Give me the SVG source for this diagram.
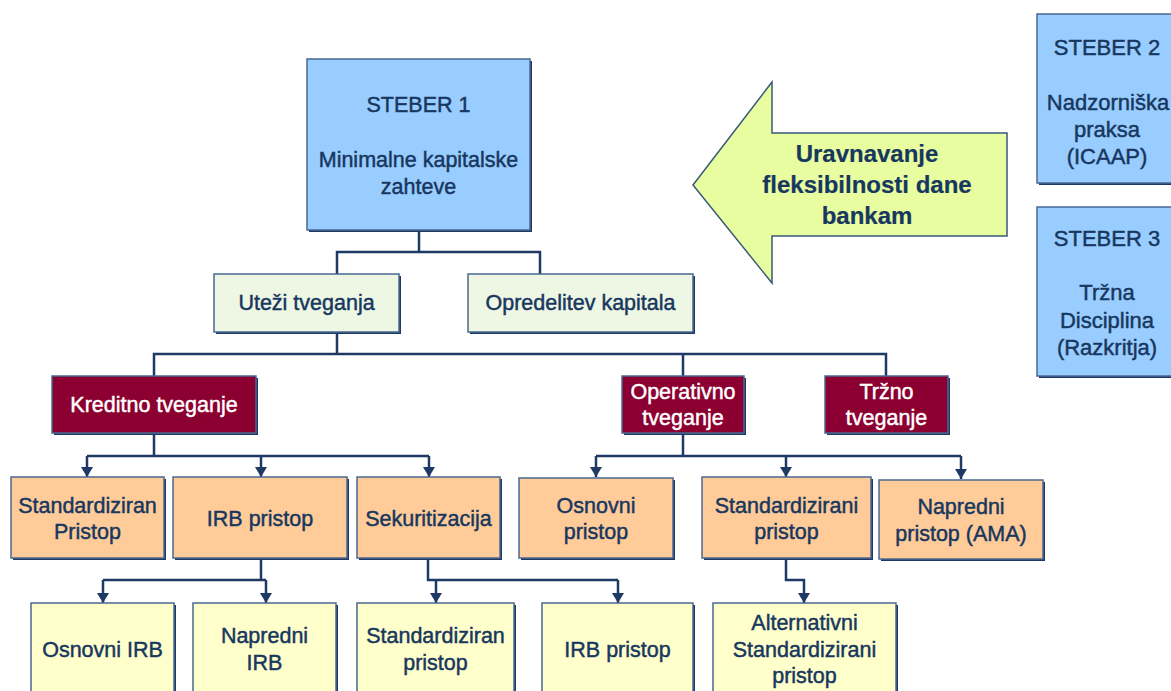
<svg xmlns="http://www.w3.org/2000/svg" width="1171" height="691" viewBox="0 0 1171 691">
  <defs>
    <style>
      .box { stroke: #4a6890; stroke-width: 1.5; }
      .shadow { fill: #1f3864; }
      .pillar { fill: #99ccff; }
      .green { fill: #eef6e4; }
      .risk { fill: #8b0030; }
      .orange { fill: #ffcc99; }
      .yellow { fill: #ffffcc; }
      text { font-family: "Liberation Sans", Arial, sans-serif; font-size: 21.5px; fill: #17375e; stroke: #17375e; stroke-width: 0.45; text-anchor: middle; }
      .white { fill: #ffffff; stroke: #ffffff; }
      .big { font-size: 24px; font-weight: bold; stroke-width: 0.2; }
      .side { font-size: 22px; }
      .conn { fill: none; stroke: #1e3a64; stroke-width: 2.5; }
    </style>
    <marker id="down" markerUnits="userSpaceOnUse" markerWidth="14" markerHeight="12" viewBox="0 0 14 12" refX="7" refY="11" orient="0">
      <path d="M1,1 L13,1 L7,11 Z" fill="#1e3a64"/>
    </marker>
  </defs>

  <!-- connectors -->
  <g id="connectors">
    <path class="conn" d="M419,230 V252 M337,274 V252 H540 V274"/>
    <path class="conn" d="M337,332 V354 M154,376 V354 H886 V376 M683,354 V376"/>
    <path class="conn" d="M154,433 V456 M87,456 H429"/>
    <path class="conn" marker-end="url(#down)" d="M87,456 V477"/>
    <path class="conn" marker-end="url(#down)" d="M261,456 V477"/>
    <path class="conn" marker-end="url(#down)" d="M429,456 V477"/>
    <path class="conn" d="M683,433 V456 M596,456 H961"/>
    <path class="conn" marker-end="url(#down)" d="M596,456 V477"/>
    <path class="conn" marker-end="url(#down)" d="M786,456 V477"/>
    <path class="conn" marker-end="url(#down)" d="M961,456 V479"/>
    <path class="conn" d="M261,558 V580 M103,580 H266"/>
    <path class="conn" marker-end="url(#down)" d="M103,580 V603"/>
    <path class="conn" marker-end="url(#down)" d="M266,580 V603"/>
    <path class="conn" d="M428,558 V580 H618"/>
    <path class="conn" marker-end="url(#down)" d="M436,580 V603"/>
    <path class="conn" marker-end="url(#down)" d="M618,580 V603"/>
    <path class="conn" marker-end="url(#down)" d="M786,558 V580 H804 V603"/>
  </g>

  <!-- pillar 1 -->
  <g id="steber1">
    <rect class="shadow" x="309" y="61" width="223" height="171"/>
    <rect class="box pillar" x="307" y="59" width="223" height="171"/>
    <text x="418.5" y="112">STEBER 1</text>
    <text x="418.5" y="167">Minimalne kapitalske</text>
    <text x="418.5" y="194">zahteve</text>
  </g>

  <!-- flexibility arrow -->
  <g id="arrow-flex">
    <path d="M693,185 L772,82 V133 H1007 V236 H772 V283 Z" fill="#e8fda0" stroke="#3a5a78" stroke-width="1.5"/>
    <text class="big" x="867" y="162">Uravnavanje</text>
    <text class="big" x="867" y="193">fleksibilnosti dane</text>
    <text class="big" x="867" y="224">bankam</text>
  </g>

  <!-- pillar 2 -->
  <g id="steber2">
    <rect class="shadow" x="1039" y="16" width="140" height="169"/>
    <rect class="box pillar" x="1037" y="14" width="140" height="169"/>
    <text class="side" x="1107" y="55">STEBER 2</text>
    <text class="side" x="1108" y="110">Nadzorniška</text>
    <text class="side" x="1107" y="137">praksa</text>
    <text class="side" x="1107" y="164">(ICAAP)</text>
  </g>

  <!-- pillar 3 -->
  <g id="steber3">
    <rect class="shadow" x="1039" y="209" width="140" height="169"/>
    <rect class="box pillar" x="1037" y="207" width="140" height="169"/>
    <text class="side" x="1107" y="246">STEBER 3</text>
    <text class="side" x="1107" y="300">Tržna</text>
    <text class="side" x="1107" y="328">Disciplina</text>
    <text class="side" x="1107" y="355">(Razkritja)</text>
  </g>

  <!-- second level -->
  <g id="utezi">
    <rect class="shadow" x="216" y="276" width="185" height="58"/>
    <rect class="box green" x="214" y="274" width="185" height="58"/>
    <text x="306.5" y="310">Uteži tveganja</text>
  </g>
  <g id="opredelitev">
    <rect class="shadow" x="470" y="276" width="225" height="58"/>
    <rect class="box green" x="468" y="274" width="225" height="58"/>
    <text x="580.5" y="310">Opredelitev kapitala</text>
  </g>

  <!-- risk categories -->
  <g id="kreditno">
    <rect class="shadow" x="54" y="378" width="204" height="57"/>
    <rect class="box risk" x="52" y="376" width="204" height="57"/>
    <text class="white" x="154" y="412">Kreditno tveganje</text>
  </g>
  <g id="operativno">
    <rect class="shadow" x="624" y="378" width="122" height="57"/>
    <rect class="box risk" x="622" y="376" width="122" height="57"/>
    <text class="white" x="683" y="399">Operativno</text>
    <text class="white" x="683" y="425">tveganje</text>
  </g>
  <g id="trzno">
    <rect class="shadow" x="827" y="378" width="123" height="57"/>
    <rect class="box risk" x="825" y="376" width="123" height="57"/>
    <text class="white" x="886.5" y="399">Tržno</text>
    <text class="white" x="886.5" y="425">tveganje</text>
  </g>

  <!-- approaches -->
  <g id="standardiziran">
    <rect class="shadow" x="13" y="479" width="153" height="81"/>
    <rect class="box orange" x="11" y="477" width="153" height="81"/>
    <text x="87.5" y="513">Standardiziran</text>
    <text x="87.5" y="539">Pristop</text>
  </g>
  <g id="irb">
    <rect class="shadow" x="175" y="479" width="174" height="81"/>
    <rect class="box orange" x="173" y="477" width="174" height="81"/>
    <text x="260" y="526">IRB pristop</text>
  </g>
  <g id="sekuritizacija">
    <rect class="shadow" x="359" y="479" width="143" height="81"/>
    <rect class="box orange" x="357" y="477" width="143" height="81"/>
    <text x="428.5" y="526">Sekuritizacija</text>
  </g>
  <g id="osnovni">
    <rect class="shadow" x="521" y="480" width="154" height="80"/>
    <rect class="box orange" x="519" y="478" width="154" height="80"/>
    <text x="596" y="513">Osnovni</text>
    <text x="596" y="539">pristop</text>
  </g>
  <g id="standardizirani">
    <rect class="shadow" x="704" y="479" width="169" height="81"/>
    <rect class="box orange" x="702" y="477" width="169" height="81"/>
    <text x="786.5" y="513">Standardizirani</text>
    <text x="786.5" y="539">pristop</text>
  </g>
  <g id="napredni">
    <rect class="shadow" x="881" y="482" width="164" height="79"/>
    <rect class="box orange" x="879" y="480" width="164" height="79"/>
    <text x="961" y="514">Napredni</text>
    <text x="961" y="541">pristop (AMA)</text>
  </g>

  <!-- sub-approaches -->
  <g id="osnovni-irb">
    <rect class="shadow" x="33" y="605" width="143" height="100"/>
    <rect class="box yellow" x="31" y="603" width="143" height="100"/>
    <text x="102.5" y="657">Osnovni IRB</text>
  </g>
  <g id="napredni-irb">
    <rect class="shadow" x="195" y="605" width="143" height="100"/>
    <rect class="box yellow" x="193" y="603" width="143" height="100"/>
    <text x="264.5" y="643">Napredni</text>
    <text x="264.5" y="670">IRB</text>
  </g>
  <g id="sek-standardiziran">
    <rect class="shadow" x="359" y="605" width="157" height="100"/>
    <rect class="box yellow" x="357" y="603" width="157" height="100"/>
    <text x="435.5" y="643">Standardiziran</text>
    <text x="435.5" y="670">pristop</text>
  </g>
  <g id="sek-irb">
    <rect class="shadow" x="544" y="605" width="151" height="100"/>
    <rect class="box yellow" x="542" y="603" width="151" height="100"/>
    <text x="617.5" y="657">IRB pristop</text>
  </g>
  <g id="alternativni">
    <rect class="shadow" x="715" y="605" width="183" height="100"/>
    <rect class="box yellow" x="713" y="603" width="183" height="100"/>
    <text x="804.5" y="630">Alternativni</text>
    <text x="804.5" y="657">Standardizirani</text>
    <text x="804.5" y="683">pristop</text>
  </g>
</svg>
